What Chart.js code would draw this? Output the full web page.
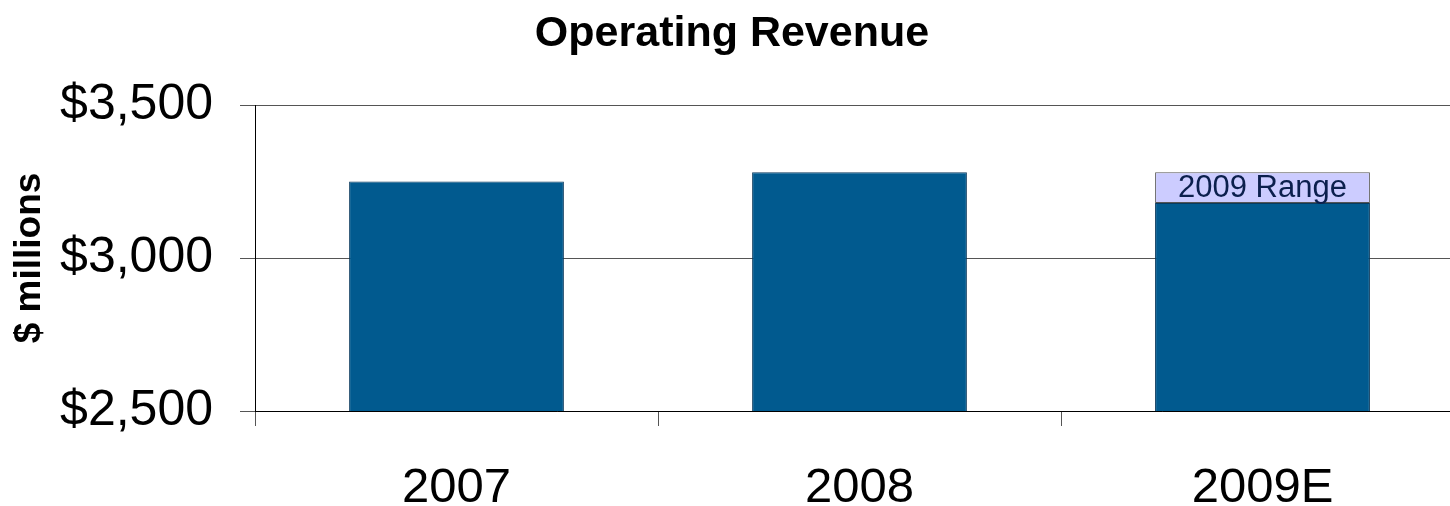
<!DOCTYPE html>
<html>
<head>
<meta charset="utf-8">
<title>Operating Revenue</title>
<script src="https://cdn.jsdelivr.net/npm/chart.js@4.4.1/dist/chart.umd.min.js"></script>
<style>
    html, body { margin: 0; padding: 0; background: #fff; overflow: hidden; }
    #wrap { width: 1464px; height: 506px; }
</style>
</head>
<body>
<div id="wrap"><canvas id="revenueChart"></canvas></div>
<script>
const years = ['2007', '2008', '2009E'];
const revenue = [3250, 3280, 3180];
const guidanceRange = [null, null, 100];
const rangeLabel = '2009 Range';
const chartTitle = 'Operating Revenue';
const yMin = 2500;
const yMax = 3500;
const yStep = 500;

const FONT = 'Arial, "Liberation Sans", sans-serif';

// writes the label inside the 2009 range segment
const rangeLabelPlugin = {
    id: 'rangeLabel',
    afterDatasetsDraw(chart) {
        const bar = chart.getDatasetMeta(1).data[2];
        if (!bar) return;
        const ctx = chart.ctx;
        ctx.save();
        ctx.font = '31px ' + FONT;
        ctx.fillStyle = '#0b1f4d';
        ctx.textAlign = 'center';
        ctx.textBaseline = 'middle';
        ctx.fillText(rangeLabel, bar.x, (bar.y + bar.base) / 2 + 1);
        ctx.restore();
    }
};

function CreateChart() {
    const ctx = document.getElementById('revenueChart');

    new Chart(ctx, {
        type: 'bar',
        data: {
            labels: years,
            datasets: [{
                label: chartTitle,
                data: revenue,
                backgroundColor: '#015a8f',
                borderColor: '#0b3a5e',
                borderWidth: 1,
                borderSkipped: false
            }, {
                label: rangeLabel,
                data: guidanceRange,
                backgroundColor: '#ccccff',
                borderColor: '#555555',
                borderWidth: 1,
                borderSkipped: false
            }]
        },
        options: {
            responsive: true,
            maintainAspectRatio: false,
            animation: false,
            categoryPercentage: 1,
            barPercentage: 0.533,
            layout: { padding: 0 },
            scales: {
                x: {
                    stacked: true,
                    offset: true,
                    grid: {
                        offset: true,
                        drawOnChartArea: false,
                        tickLength: 15,
                        color: '#555'
                    },
                    border: { color: '#000', width: 1 },
                    ticks: {
                        padding: 33,
                        color: '#000',
                        font: { family: FONT, size: 49 }
                    },
                    afterFit(scale) { scale.height = 95; }
                },
                y: {
                    stacked: true,
                    min: yMin,
                    max: yMax,
                    grid: {
                        tickLength: 15,
                        color: '#555'
                    },
                    border: { color: '#000', width: 1 },
                    ticks: {
                        stepSize: yStep,
                        padding: 27,
                        color: '#000',
                        font: { family: FONT, size: 50 },
                        callback: v => '$' + v.toLocaleString('en-US')
                    },
                    title: {
                        display: true,
                        text: '$ millions',
                        color: '#000',
                        padding: { top: 8, bottom: 0 },
                        font: { family: FONT, size: 37, weight: 'bold' }
                    },
                    afterFit(scale) { scale.width = 255; }
                }
            },
            plugins: {
                legend: { display: false },
                tooltip: { enabled: false },
                title: {
                    display: true,
                    text: chartTitle,
                    color: '#000',
                    padding: { top: 8, bottom: 45.4 },
                    font: { family: FONT, size: 43, weight: 'bold' }
                }
            }
        },
        plugins: [rangeLabelPlugin]
    });
}

CreateChart();
</script>
</body>
</html>
